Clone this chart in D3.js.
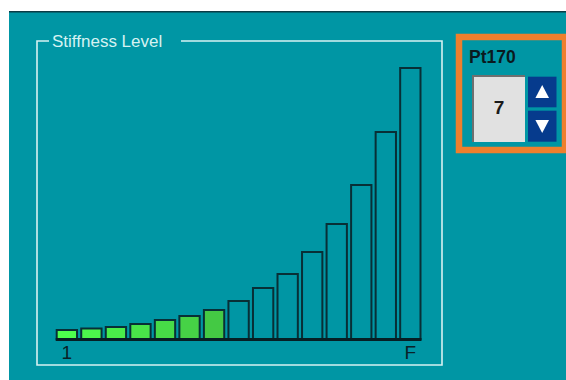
<!DOCTYPE html>
<html><head><meta charset="utf-8">
<script src="https://cdn.jsdelivr.net/npm/d3@7"></script>
<style>html,body{margin:0;padding:0;background:#fff;overflow:hidden}</style>
</head><body>
<svg id="c" width="566" height="380"></svg>
<script>
const levels = ["1","2","3","4","5","6","7","8","9","A","B","C","D","E","F"];
const stiffness = [10, 11.5, 13, 16, 20, 24, 30, 39, 52, 66, 88, 116, 155, 208, 272];
const tickLabels = ["1","F"];
const currentLevel = 7;
const title = "Stiffness Level";
const pointName = "Pt170";

const svg = d3.select("#c");
const teal = "#0096a4";
svg.append("rect").attr("x",9).attr("y",11).attr("width",557).attr("height",369).attr("fill",teal);
svg.append("rect").attr("x",9).attr("y",11).attr("width",557).attr("height",1.5).attr("fill","#0b3b45");

// frame
const frameCol = "#d6f2f2";
const fr = {x0:37, y0:41, x1:442, y1:365};
const fp = `M49,${fr.y0} H${fr.x0} V${fr.y1} H${fr.x1} V${fr.y0} H181`;
svg.append("path").attr("d",fp).attr("fill","none").attr("stroke",frameCol).attr("stroke-width",1.6);
svg.append("text").attr("x",52).attr("y",47).attr("fill",frameCol)
  .attr("font-family","Liberation Sans, Arial, sans-serif").attr("font-size",17).text(title);

// scales
const x = d3.scaleBand().domain(levels).range([55.7, 421.5]).paddingInner(0.09).paddingOuter(0);
const y = d3.scaleLinear().domain([0, 272]).range([339, 67]);
const green = d3.interpolateRgb("#4dff4d", "#44c944");

svg.append("g").selectAll("rect").data(stiffness).join("rect")
  .attr("x",(d,i)=>x(levels[i])+1)
  .attr("y",d=>y(d)+1)
  .attr("width",x.bandwidth()-2)
  .attr("height",d=>y(0)-y(d)-1)
  .attr("fill",(d,i)=> i < currentLevel ? green(i/(currentLevel-1)) : teal)
  .attr("stroke","#082f36").attr("stroke-width",2);

// baseline
svg.append("line").attr("x1",55.7).attr("x2",421.5).attr("y1",y(0)+0.5).attr("y2",y(0)+0.5)
  .attr("stroke","#061f24").attr("stroke-width",3);

// axis labels
const xAxis = d3.axisBottom(x).tickValues(tickLabels).tickSize(0).tickPadding(0);
const ax = svg.append("g").attr("transform",`translate(0,${y(0)+2})`).call(xAxis);
ax.select(".domain").remove();
ax.selectAll("text").attr("font-family","Liberation Sans, Arial, sans-serif").attr("font-size",19)
  .attr("fill","#0a2228").attr("dy","0.95em");

// right control panel
svg.append("rect").attr("x",459).attr("y",37).attr("width",106).attr("height",113)
  .attr("fill","none").attr("stroke","#ee7f2d").attr("stroke-width",6.5);
svg.append("text").attr("x",469).attr("y",62.5).attr("font-family","Liberation Sans, Arial, sans-serif")
  .attr("font-weight","bold").attr("font-size",17.5).attr("fill","#0a1a1e").text(pointName);
svg.append("rect").attr("x",472).attr("y",75).attr("width",53).attr("height",67).attr("fill","#e1e1e1");
svg.append("path").attr("d","M473,142 V76 H525").attr("fill","none").attr("stroke","#6f6f6f").attr("stroke-width",2);
svg.append("text").attr("x",499).attr("y",114.3).attr("text-anchor","middle")
  .attr("font-family","Liberation Sans, Arial, sans-serif").attr("font-weight","bold").attr("font-size",19)
  .attr("fill","#1a1a1a").text(String(currentLevel));
const blue = "#063b8d";
svg.append("rect").attr("x",528).attr("y",76.7).attr("width",28.5).attr("height",30.6).attr("fill",blue);
svg.append("rect").attr("x",528).attr("y",110.7).attr("width",28.5).attr("height",31).attr("fill",blue);
svg.append("path").attr("d","M542.2,85 L549,98 L535.4,98 Z").attr("fill","#fff");
svg.append("path").attr("d","M535.4,120 L549,120 L542.2,133 Z").attr("fill","#fff");
</script>
</body></html>
